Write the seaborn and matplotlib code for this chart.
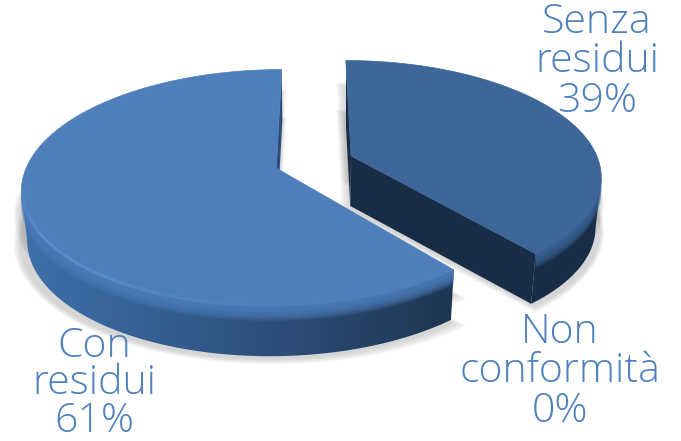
import numpy as np
import matplotlib
matplotlib.use("Agg")
import matplotlib.pyplot as plt
from matplotlib.collections import LineCollection
from matplotlib.colors import LinearSegmentedColormap, to_rgb
from matplotlib.patches import Polygon
import seaborn as sns

# Share of samples per outcome, clockwise from twelve o'clock
categories = ["Senza\nresidui", "Non\nconformità", "Con\nresidui"]
values = [39, 0, 61]
percent_labels = ["39%", "0%", "61%"]

sns.set_theme(style="white")
plt.rcParams["font.family"] = ["Open Sans", "DejaVu Sans"]

TEXT_BLUE = "#4f81bd"
# One style per non-empty slice: top face, wall gradient left to right, rim
face_colors = {0: "#3d6699", 2: "#4e7fbb"}
wall_colors = {0: ["#182c45", "#182c45"], 2: ["#3f70ab", "#2f5482", "#1e3552"]}
rim_colors = {0: None, 2: "#5b90d3"}
label_anchor = {0: (597, 62), 1: (560, 372), 2: (94, 384)}
label_spacing = {0: 0.95, 1: 0.95, 2: 0.9}

# Perspective of the disc on the page
CX, CY, RX, RY, TILT = 314.0, 162.0, 248.0, 113.0, 0.165
EXPLODE = 0.16
DEPTH = 50.0
BASE_SCALE = 0.98
BEVEL = 15.0


def project(u, v):
    w = 1 + TILT * v
    return np.column_stack([CX + RX * u / w, CY - RY * v / w])


def drop(points):
    """Same outline on the lower plane of the disc."""
    out = points.copy()
    out[:, 0] = CX + (out[:, 0] - CX) * BASE_SCALE
    out[:, 1] += DEPTH
    return out


def band(upper, lower):
    return np.vstack([upper, lower[::-1]])


fig = plt.figure(figsize=(6.81, 4.41), dpi=100)
ax = fig.add_axes([0, 0, 1, 1])
ax.set_axis_off()

slices = []
cum = 0.0
total = sum(values)
for i, val in enumerate(values):
    start = np.pi / 2 - 2 * np.pi * cum / total
    end = start - 2 * np.pi * val / total
    cum += val
    if val == 0:
        continue
    mid = (start + end) / 2
    ou, ov = EXPLODE * np.cos(mid), EXPLODE * np.sin(mid)
    th = np.linspace(start, end, 240)
    arc = project(ou + np.cos(th), ov + np.sin(th))
    apex = project(np.array([ou]), np.array([ov]))
    slices.append((i, arc, apex))

# Soft cast shadow under both slices
for i, arc, apex in slices:
    face = np.vstack([apex, arc])
    for lift in (DEPTH, DEPTH * 0.45):
        low = face.copy()
        low[:, 1] += lift
        centre = low.mean(axis=0)
        for s in range(12):
            grown = centre + (low - centre) * (1.0 + 0.0045 * s) + np.array([-1.0, 3.0])
            ax.add_patch(Polygon(grown, closed=True, fc="#6b6b6b", ec="none",
                                 alpha=0.024, zorder=1))

for order, (i, arc, apex) in enumerate(slices):
    base_z = 2 + order
    face_c = face_colors[i]
    cmap = LinearSegmentedColormap.from_list(f"wall{i}", wall_colors[i])
    x0, x1 = arc[:, 0].min(), arc[:, 0].max()
    grad = np.linspace(0, 1, 256).reshape(1, -1)

    # Walls that face the viewer: the outer curve and any cut edge
    going_left = np.diff(arc[:, 0]) < 0
    idx = np.where(going_left)[0]
    front = arc[idx[0]:idx[-1] + 2]

    walls = [band(front, drop(front))]
    for a, b in ((apex, arc[:1]), (arc[-1:], apex)):
        if b[0, 0] < a[0, 0]:
            edge = np.vstack([a, b])
            walls.append(band(edge, drop(edge)))

    for wall in walls:
        img = ax.imshow(grad, cmap=cmap, extent=(x0, x1, 441, 0), aspect="auto",
                        zorder=base_z)
        clip = Polygon(wall, closed=True, transform=ax.transData, fc="none", ec="none")
        ax.add_patch(clip)
        img.set_clip_path(clip)

    # Rounded shoulder between top face and outer wall
    for t in np.linspace(1, 0.05, 18):
        shifted = front.copy()
        shifted[:, 1] += BEVEL * t
        ax.add_patch(Polygon(band(front, shifted), closed=True, fc=face_c, ec="none",
                             alpha=0.14, zorder=base_z + 0.1))

    face = np.vstack([apex, arc])
    ax.add_patch(Polygon(face, closed=True, fc=face_c, ec=face_c, lw=0.5,
                         zorder=base_z + 0.2))

    # Light catching the rim, fading towards the right and at the far left tip
    if rim_colors[i]:
        rim = front.copy()
        centre = np.array([CX, CY + 20])
        rim = centre + (rim - centre) * 0.995
        segs = np.stack([rim[:-1], rim[1:]], axis=1)
        frac = (rim[:-1, 0] - x0) / (x1 - x0)
        alpha = np.clip(1.0 - frac * 1.7, 0, 1) * np.clip(frac * 20, 0.25, 1) * 0.6
        colors = np.column_stack([np.tile(to_rgb(rim_colors[i]), (len(segs), 1)), alpha])
        ax.add_collection(LineCollection(segs, colors=colors, linewidths=2.5,
                                         capstyle="round", zorder=base_z + 0.3))

# Category name and share beside each slice
for i, (name, pct) in enumerate(zip(categories, percent_labels)):
    x, y = label_anchor[i]
    ax.text(x, y, f"{name}\n{pct}", ha="center", va="center", color=TEXT_BLUE,
            fontsize=29.5, fontweight="light", linespacing=label_spacing[i], zorder=10)

ax.set_xlim(0, 681)
ax.set_ylim(441, 0)
fig.savefig("out.png", dpi=100, facecolor="white")
